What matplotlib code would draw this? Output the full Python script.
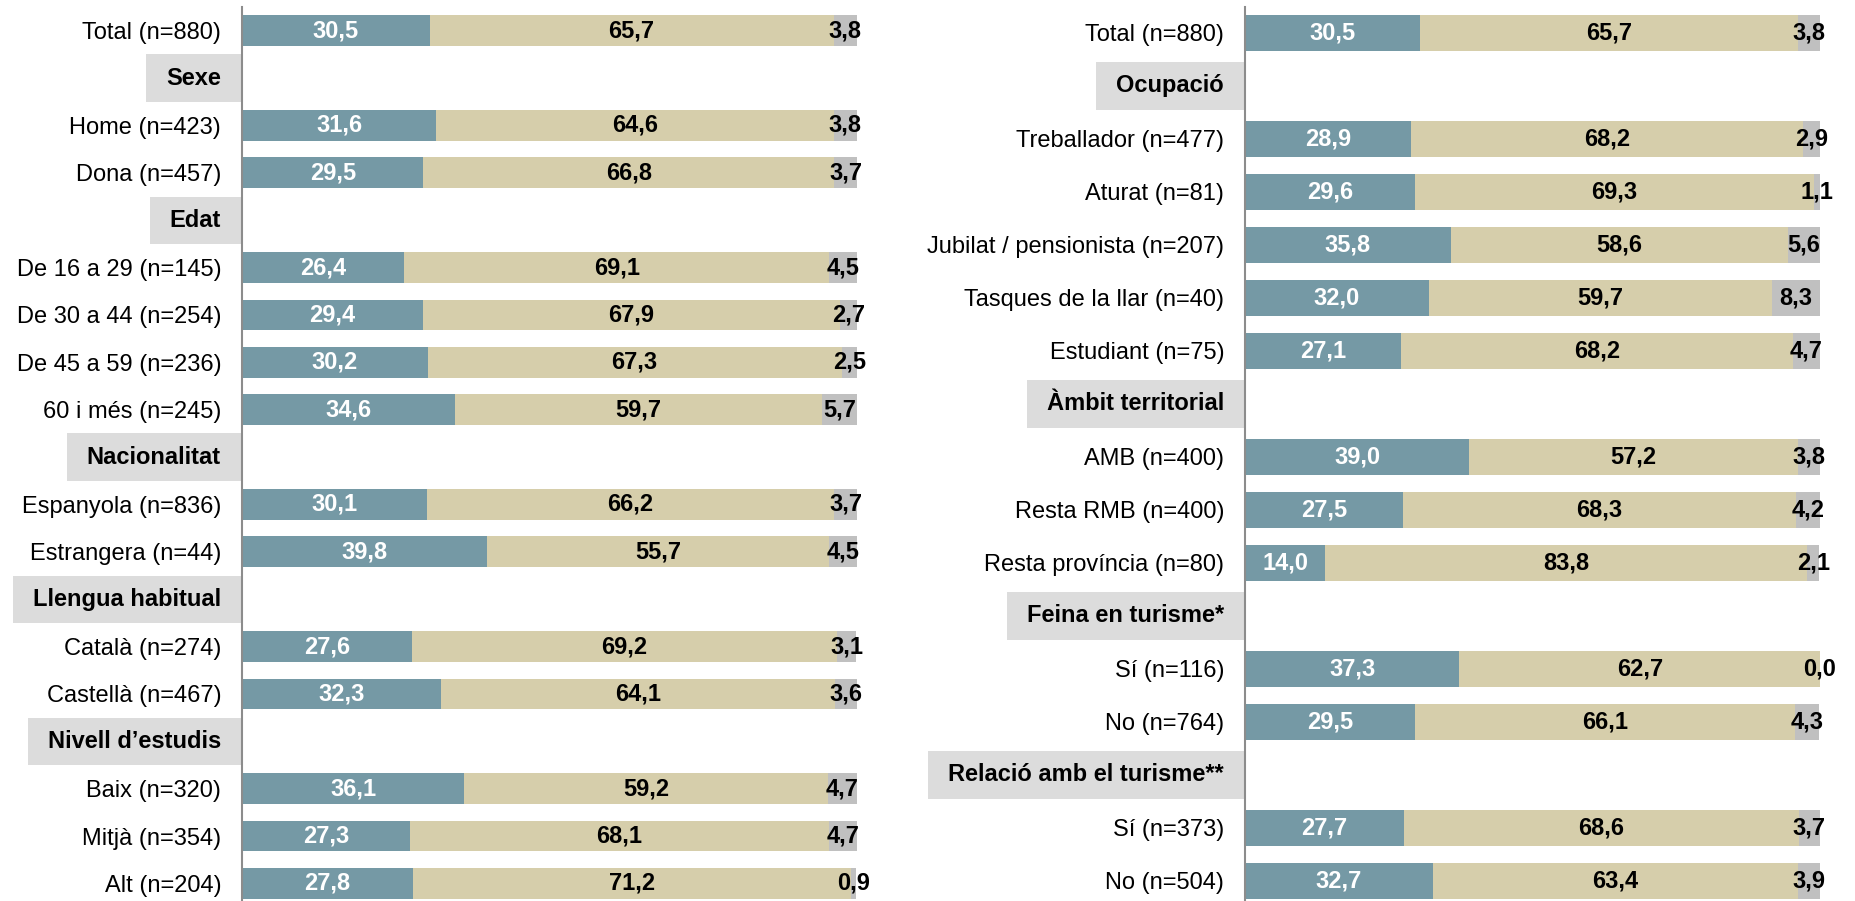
import matplotlib
matplotlib.use("Agg")
import matplotlib.pyplot as plt
from matplotlib.patches import Rectangle
from matplotlib.transforms import offset_copy

plt.rcParams["font.family"] = ["Liberation Sans", "DejaVu Sans"]

# left panel
left_labels = ["Total (n=880)", "Sexe", "Home (n=423)", "Dona (n=457)", "Edat",
               "De 16 a 29 (n=145)", "De 30 a 44 (n=254)", "De 45 a 59 (n=236)",
               "60 i més (n=245)", "Nacionalitat", "Espanyola (n=836)",
               "Estrangera (n=44)", "Llengua habitual", "Català (n=274)",
               "Castellà (n=467)", "Nivell d’estudis", "Baix (n=320)",
               "Mitjà (n=354)", "Alt (n=204)"]
left_headers = ["Sexe", "Edat", "Nacionalitat", "Llengua habitual", "Nivell d’estudis"]
left_a = [30.5, None, 31.6, 29.5, None, 26.4, 29.4, 30.2, 34.6, None, 30.1, 39.8,
          None, 27.6, 32.3, None, 36.1, 27.3, 27.8]
left_b = [65.7, None, 64.6, 66.8, None, 69.1, 67.9, 67.3, 59.7, None, 66.2, 55.7,
          None, 69.2, 64.1, None, 59.2, 68.1, 71.2]
left_c = [3.8, None, 3.8, 3.7, None, 4.5, 2.7, 2.5, 5.7, None, 3.7, 4.5,
          None, 3.1, 3.6, None, 4.7, 4.7, 0.9]

# right panel
right_labels = ["Total (n=880)", "Ocupació", "Treballador (n=477)", "Aturat (n=81)",
                "Jubilat / pensionista (n=207)", "Tasques de la llar (n=40)",
                "Estudiant (n=75)", "Àmbit territorial", "AMB (n=400)",
                "Resta RMB (n=400)", "Resta província (n=80)", "Feina en turisme*",
                "Sí (n=116)", "No (n=764)", "Relació amb el turisme**",
                "Sí (n=373)", "No (n=504)"]
right_headers = ["Ocupació", "Àmbit territorial", "Feina en turisme*",
                 "Relació amb el turisme**"]
right_a = [30.5, None, 28.9, 29.6, 35.8, 32.0, 27.1, None, 39.0, 27.5, 14.0,
           None, 37.3, 29.5, None, 27.7, 32.7]
right_b = [65.7, None, 68.2, 69.3, 58.6, 59.7, 68.2, None, 57.2, 68.3, 83.8,
           None, 62.7, 66.1, None, 68.6, 63.4]
right_c = [3.8, None, 2.9, 1.1, 5.6, 8.3, 4.7, None, 3.8, 4.2, 2.1,
           None, 0.0, 4.3, None, 3.7, 3.9]

col_a = "#7599A5"
col_b = "#D6CEAB"
col_c = "#C0C0C0"
col_box = "#DCDCDC"

W, H = 1856, 901
fig = plt.figure(figsize=(W / 100, H / 100), dpi=100)

ax_l = fig.add_axes([242 / W, 0, 615 / W, 894 / H])
ax_r = fig.add_axes([1245 / W, 0, 575 / W, 894 / H])


def fmt(v):
    return f"{v:.1f}".replace(".", ",")


def draw_panel(ax, labels, headers, a, b, c, bar_h, ylim):
    rows = [i for i, l in enumerate(labels) if l not in headers]
    va = [a[i] for i in rows]
    vb = [b[i] for i in rows]
    vc = [c[i] for i in rows]
    left_c = [x + y for x, y in zip(va, vb)]
    ax.barh(rows, va, height=bar_h, color=col_a, edgecolor="none")
    ax.barh(rows, vb, left=va, height=bar_h, color=col_b, edgecolor="none")
    ax.barh(rows, vc, left=left_c, height=bar_h, color=col_c, edgecolor="none")
    for y, x1, x2, x3 in zip(rows, va, vb, vc):
        ax.text(x1 / 2, y, fmt(x1), ha="center", va="center", color="white",
                fontsize=17, fontweight="bold")
        ax.text(x1 + x2 / 2, y, fmt(x2), ha="center", va="center", color="black",
                fontsize=17, fontweight="bold")
        ax.text(x1 + x2 + x3 / 2, y, fmt(x3), ha="center", va="center",
                color="black", fontsize=17, fontweight="bold", clip_on=False)
    ax.set_xlim(0, 100)
    ax.set_ylim(*ylim)
    ax.set_yticks(rows)
    ax.set_yticklabels([labels[i] for i in rows], fontsize=17)
    ax.tick_params(axis="y", length=0, pad=15)
    ax.set_xticks([])
    for s in ["top", "right", "bottom"]:
        ax.spines[s].set_visible(False)
    ax.spines["left"].set_color("#8C8C8C")
    ax.spines["left"].set_linewidth(1.5)
    ax.spines["left"].set_zorder(5)
    ax.set_facecolor("none")
    # header labels
    hdr = []
    tr = offset_copy(ax.get_yaxis_transform(), fig=fig, x=-21, y=0, units="dots")
    for i, l in enumerate(labels):
        if l in headers:
            t = ax.text(0, i, l, ha="right", va="center", fontsize=17,
                        fontweight="bold", zorder=4, clip_on=False, transform=tr)
            hdr.append((i, t))
    return hdr


hdr_l = draw_panel(ax_l, left_labels, left_headers, left_a, left_b, left_c,
                   0.65, (18.37, -0.5))
hdr_r = draw_panel(ax_r, right_labels, right_headers, right_a, right_b, right_c,
                   0.68, (16.38, -0.49))

# grey boxes behind the group headers
fig.canvas.draw()
r = fig.canvas.get_renderer()
for ax, hdr, box_h in [(ax_l, hdr_l, 1.0), (ax_r, hdr_r, 0.9)]:
    inv = ax.transData.inverted()
    for i, t in hdr:
        bb = t.get_window_extent(r)
        x0 = inv.transform((bb.x0 - 20, 0))[0]
        ax.add_patch(Rectangle((x0, i - box_h / 2), -x0, box_h, facecolor=col_box,
                               edgecolor="none", clip_on=False, zorder=3))

fig.savefig("out.png", dpi=100, facecolor="white")
